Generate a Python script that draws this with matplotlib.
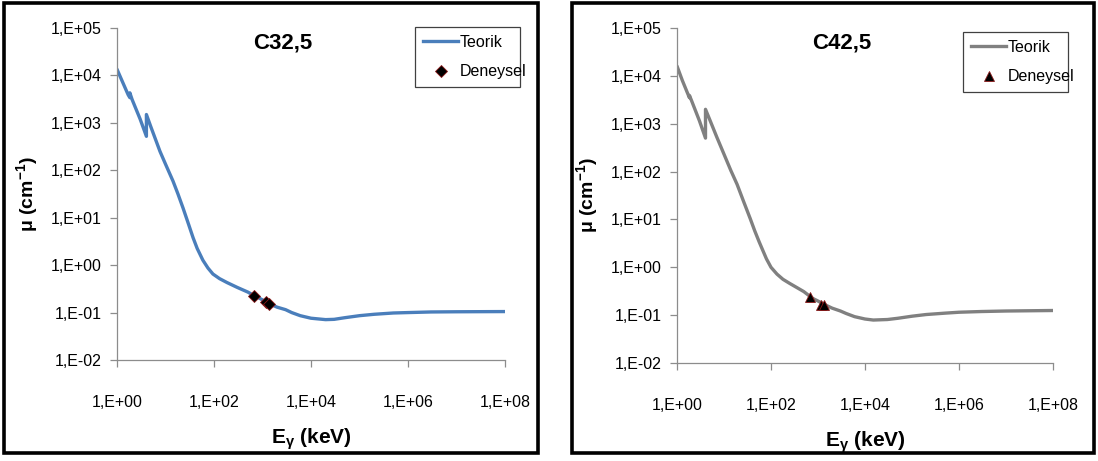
import matplotlib
matplotlib.use("Agg")
import matplotlib.pyplot as plt
from matplotlib.patches import Rectangle
from matplotlib.lines import Line2D

# ---------------- data ----------------
energy_left = [1, 1.3, 1.7, 1.84, 1.84, 2.05, 3.0, 4.04, 4.04, 5, 7.7, 10, 14.3, 18, 23, 30, 37, 45, 59, 75,
               95, 130, 185, 300, 500, 662, 800, 1000, 1250, 1500, 2000, 3000, 4000, 6000,
               1e4, 2e4, 3e4, 5e4, 1e5, 2e5, 5e5, 1e6, 3e6, 1e7, 1e8]
mu_left = [1.35e4, 7.3e3, 3.9e3, 3.4e3, 4.3e3, 3.1e3, 1.2e3, 5.2e2, 1.5e3, 8.2e2, 2.5e2, 1.35e2, 59, 32, 16, 7.2, 3.8, 2.25, 1.27, 0.87,
           0.65, 0.52, 0.43, 0.34, 0.27, 0.23, 0.21, 0.185, 0.163, 0.148, 0.13, 0.115, 0.10, 0.086,
           0.076, 0.071, 0.072, 0.078, 0.086, 0.092, 0.098, 0.100, 0.103, 0.104, 0.105]

energy_right = [1, 1.3, 1.7, 1.84, 1.84, 2.05, 3.0, 4.04, 4.04, 5, 7, 9.5, 14, 19, 26, 36, 45, 56, 64, 80,
                100, 134, 180, 250, 350, 500, 662, 800, 1000, 1500, 2000, 3000, 4000, 6000,
                1e4, 1.5e4, 3e4, 5e4, 1e5, 2e5, 5e5, 1e6, 3e6, 1e7, 1e8]
mu_right = [1.6e4, 8.0e3, 4.2e3, 3.5e3, 3.9e3, 3.0e3, 1.15e3, 5.0e2, 2.0e3, 1.2e3, 5.3e2, 2.6e2, 1.05e2, 54, 24, 10.5, 5.8, 3.4, 2.5, 1.5,
            1.0, 0.72, 0.56, 0.46, 0.38, 0.31, 0.25, 0.22, 0.197, 0.16, 0.14, 0.122, 0.108, 0.093,
            0.083, 0.079, 0.081, 0.086, 0.095, 0.103, 0.110, 0.115, 0.119, 0.122, 0.125]

exp_energy = [662, 1173, 1332]
exp_mu_left = [0.22, 0.165, 0.155]
exp_mu_right = [0.235, 0.16, 0.16]

titles = ["C32,5", "C42,5"]
legend_labels = ["Teorik", "Deneysel"]
x_ticks = [1, 1e2, 1e4, 1e6, 1e8]
x_tick_labels = ["1,E+00", "1,E+02", "1,E+04", "1,E+06", "1,E+08"]
y_ticks = [1e-2, 1e-1, 1, 1e1, 1e2, 1e3, 1e4, 1e5]
y_tick_labels = ["1,E-02", "1,E-01", "1,E+00", "1,E+01", "1,E+02", "1,E+03", "1,E+04", "1,E+05"]

# ---------------- figure ----------------
plt.rcParams["font.family"] = ["Liberation Sans", "DejaVu Sans"]
plt.rcParams["mathtext.fontset"] = "custom"
plt.rcParams["mathtext.rm"] = "Liberation Sans:bold"
plt.rcParams["mathtext.it"] = "Liberation Sans:bold"
plt.rcParams["mathtext.bf"] = "Liberation Sans:bold"
plt.rcParams["mathtext.default"] = "rm"

W, H = 1098, 461
fig = plt.figure(figsize=(W / 100, H / 100), dpi=100)

def fx(px):
    return px / W

def fy(py):
    return 1 - py / H

# panel frames
for (x0, x1) in [(4, 538), (572, 1094)]:
    fig.patches.append(Rectangle((fx(x0), fy(453)), fx(x1 - x0), (453 - 3) / H,
                                 transform=fig.transFigure, fill=False,
                                 edgecolor="black", linewidth=2.6, zorder=10))

panels = [
    dict(rect=(117, 505, 28, 360), E=energy_left, mu=mu_left, emu=exp_mu_left,
         color="#4A7EBB", marker="D", msize=6, title=titles[0], title_x=283,
         leg=(415, 520, 27, 95)),
    dict(rect=(677, 1053, 28, 363), E=energy_right, mu=mu_right, emu=exp_mu_right,
         color="#808080", marker="^", msize=7, title=titles[1], title_x=842,
         leg=(963, 1068, 32, 93)),
]

for p in panels:
    x0, x1, y0, y1 = p["rect"]
    ax = fig.add_axes([fx(x0), fy(y1), fx(x1 - x0), (y1 - y0) / H])
    ax.plot(p["E"], p["mu"], color=p["color"], linewidth=2.4, solid_capstyle="round",
            solid_joinstyle="round", zorder=2)
    ax.plot(exp_energy, p["emu"], linestyle="none", marker=p["marker"], markersize=p["msize"],
            markerfacecolor="black", markeredgecolor="#8B1A1A", markeredgewidth=0.6, zorder=3)
    ax.set_xscale("log")
    ax.set_yscale("log")
    ax.set_xlim(1, 1e8)
    ax.set_ylim(1e-2, 1e5)
    ax.set_xticks(x_ticks)
    ax.set_xticklabels(x_tick_labels)
    ax.set_yticks(y_ticks)
    ax.set_yticklabels(y_tick_labels)
    ax.minorticks_off()
    for s in ["top", "right"]:
        ax.spines[s].set_visible(False)
    for s in ["left", "bottom"]:
        ax.spines[s].set_color("#8C8C8C")
        ax.spines[s].set_linewidth(0.9)
    ax.tick_params(axis="both", direction="out", length=5, width=0.9, color="#8C8C8C",
                   labelsize=11.5, labelcolor="black")
    ax.tick_params(axis="x", pad=20)
    ax.tick_params(axis="y", pad=6)
    ax.set_ylabel("μ (cm$^{-1}$)", fontsize=14, fontweight="bold", labelpad=8)
    ax.set_xlabel("E$_{γ}$ (keV)", fontsize=15, fontweight="bold", labelpad=12)
    fig.text(fx(p["title_x"]), fy(43), p["title"], fontsize=16, fontweight="bold",
             ha="center", va="center")
    lx0, lx1, ly0, ly1 = p["leg"]
    handles = [Line2D([], [], color=p["color"], linewidth=2.4),
               Line2D([], [], linestyle="none", marker=p["marker"], markersize=p["msize"],
                      markerfacecolor="black", markeredgecolor="#8B1A1A", markeredgewidth=0.6)]
    leg = fig.legend(handles, legend_labels, loc="upper left",
                     bbox_to_anchor=(fx(lx0), fy(ly1), fx(lx1 - lx0), (ly1 - ly0) / H),
                     bbox_transform=fig.transFigure, mode="expand", fontsize=11.5,
                     frameon=True, fancybox=False, edgecolor="#404040", framealpha=1,
                     handlelength=2.2, handletextpad=0.1, borderpad=0.5, labelspacing=0.9,
                     borderaxespad=0)
    leg.get_frame().set_linewidth(0.9)

fig.savefig("out.png", dpi=100)
